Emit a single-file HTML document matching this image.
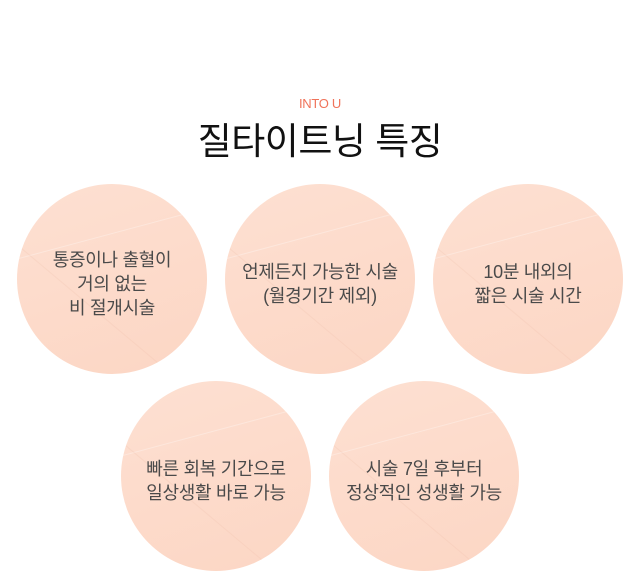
<!DOCTYPE html>
<html><head><meta charset="utf-8"><style>
body{margin:0;width:640px;height:572px;background:#fff;position:relative;overflow:hidden;font-family:"Liberation Sans","Noto Sans CJK KR",sans-serif}
.sub{position:absolute;top:96px;left:0;width:640px;text-align:center;font-size:13px;color:#f0735a;letter-spacing:-0.3px}
.t{position:absolute;top:111px;left:0;width:640px;text-align:center;font-size:37px;color:#111;letter-spacing:-0.5px}
.c{position:absolute;width:190px;height:190px;border-radius:50%;background:linear-gradient(160deg,#fde0d2 0%,#fddbcb 50%,#fcd6c4 100%);display:flex;align-items:center;justify-content:center;text-align:center;font-size:18px;line-height:24px;color:#4a4a4a;overflow:hidden;letter-spacing:-0.3px;box-sizing:border-box;padding-top:10px}
.c::before{content:"";position:absolute;left:-20px;top:45px;width:260px;height:1px;background:rgba(255,255,255,.3);transform:rotate(-15deg)}
.c::after{content:"";position:absolute;left:0;top:60px;width:280px;height:1px;background:rgba(240,190,170,.25);transform:rotate(40deg);transform-origin:0 0}
.c span{position:relative;z-index:1}
</style></head><body>
<div class="sub">INTO U</div>
<div class="t">질타이트닝 특징</div>
<div class="c" style="left:17px;top:184px"><span>통증이나 출혈이<br>거의 없는<br>비 절개시술</span></div>
<div class="c" style="left:225px;top:184px"><span>언제든지 가능한 시술<br>(월경기간 제외)</span></div>
<div class="c" style="left:433px;top:184px"><span>10분 내외의<br>짧은 시술 시간</span></div>
<div class="c" style="left:121px;top:381px"><span>빠른 회복 기간으로<br>일상생활 바로 가능</span></div>
<div class="c" style="left:329px;top:381px"><span>시술 7일 후부터<br>정상적인 성생활 가능</span></div>
</body></html>
